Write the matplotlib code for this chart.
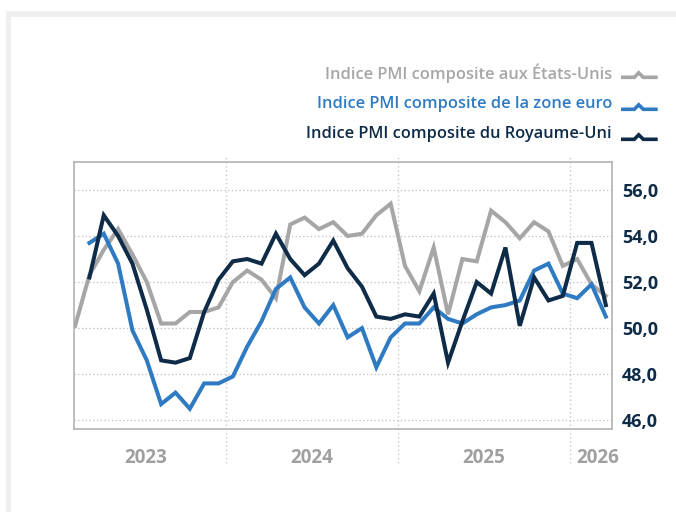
import numpy as np
import matplotlib
matplotlib.use("Agg")
import matplotlib.pyplot as plt
from matplotlib.lines import Line2D
from matplotlib.patches import Rectangle

# monthly composite PMI, Feb 2023 .. Mar 2026
months = np.arange(38)
us = [50.1, 52.3, 53.4, 54.3, 53.2, 52.0, 50.2, 50.2, 50.7, 50.7,
      50.9, 52.0, 52.5, 52.1, 51.3, 54.5, 54.8, 54.3, 54.6, 54.0,
      54.1, 54.9, 55.4, 52.7, 51.6, 53.5, 50.6, 53.0, 52.9, 55.1,
      54.6, 53.9, 54.6, 54.2, 52.7, 53.0, 51.9, 51.4]
euro = [np.nan, 53.7, 54.1, 52.8, 49.9, 48.6, 46.7, 47.2, 46.5, 47.6,
        47.6, 47.9, 49.2, 50.3, 51.7, 52.2, 50.9, 50.2, 51.0, 49.6,
        50.0, 48.3, 49.6, 50.2, 50.2, 50.9, 50.4, 50.2, 50.6, 50.9,
        51.0, 51.2, 52.5, 52.8, 51.5, 51.3, 51.9, 50.5]
uk = [np.nan, 52.2, 54.9, 54.0, 52.8, 50.8, 48.6, 48.5, 48.7, 50.7,
      52.1, 52.9, 53.0, 52.8, 54.1, 53.0, 52.3, 52.8, 53.8, 52.6,
      51.8, 50.5, 50.4, 50.6, 50.5, 51.5, 48.5, 50.3, 52.0, 51.5,
      53.5, 50.1, 52.2, 51.2, 51.4, 53.7, 53.7, 51.0]

series_names = ["Indice PMI composite aux États-Unis",
                "Indice PMI composite de la zone euro",
                "Indice PMI composite du Royaume-Uni"]
years = ["2023", "2024", "2025", "2026"]
year_breaks = [10.5, 22.5, 34.5]
yticks = [46, 48, 50, 52, 54, 56]

GREY = "#a6a6a6"
BLUE = "#2f7bc3"
NAVY = "#0e2b48"
colors = [GREY, BLUE, NAVY]

plt.rcParams["font.family"] = ["Open Sans", "DejaVu Sans"]

W, H = 676, 512
fig = plt.figure(figsize=(W / 100, H / 100), dpi=100)
fig.patch.set_facecolor("white")

# light grey card border (top and left)
fig.add_artist(Rectangle((6 / W, 0), 5 / W, 1 - 11 / H, transform=fig.transFigure,
                         color="#efefef", lw=0, zorder=0))
fig.add_artist(Rectangle((6 / W, 1 - 16.7 / H), 1, 5.7 / H, transform=fig.transFigure,
                         color="#efefef", lw=0, zorder=0))

ax = fig.add_axes([74.3 / W, 1 - 429 / H, (612.3 - 74.3) / W, (429 - 162.3) / H])

for vals, c in zip([us, euro, uk], colors):
    ax.plot(months, vals, color=c, lw=2.9, solid_joinstyle="miter", zorder=3)

ax.set_xlim(-0.054, 37.45)
ax.set_ylim(45.62, 57.2)

ax.set_yticks(yticks)
ax.set_yticklabels([f"{v:.1f}".replace(".", ",") for v in yticks])
ax.yaxis.tick_right()
ax.tick_params(axis="y", length=0, pad=7, labelsize=13, labelcolor=NAVY)
for lab in ax.get_yticklabels():
    lab.set_fontweight("bold")

# year labels centred in each year band
ax.set_xticks([4.9, 16.5, 28.5, 36.4])
ax.set_xticklabels(years)
ax.tick_params(axis="x", length=0, pad=14, labelsize=13.5, labelcolor="#a0a0a0")
for lab in ax.get_xticklabels():
    lab.set_fontweight("bold")

for v in yticks:
    ax.axhline(v, color="#bdbdbd", lw=0.9, ls=(0, (1, 2)), zorder=1)
for b in year_breaks:
    ax.axvline(b, ymin=-0.127, ymax=1.027, color="#c8c8c8", lw=1.0,
               ls=(0, (1, 2)), clip_on=False, zorder=1)

for s in ax.spines.values():
    s.set_color("#b3b3b3")
    s.set_linewidth(1.2)

# legend: right-aligned text with a small caret-line symbol
text_y = [73, 104, 134]
sym_y = [77.3, 109.3, 139.3]
for name, c, ty, sy in zip(series_names, colors, text_y, sym_y):
    fig.text(612 / W, 1 - ty / H, name, color=c, fontsize=11.8, fontweight="semibold",
             ha="right", va="center")
    xs = np.array([621, 634.3, 638.7, 643.3, 657.7]) / W
    ys = 1 - np.array([sy, sy, sy - 4.5, sy, sy]) / H
    fig.add_artist(Line2D(xs, ys, transform=fig.transFigure, color=c, lw=2.6,
                          solid_joinstyle="miter", solid_capstyle="butt"))

fig.savefig("out.png", dpi=100, facecolor="white")
